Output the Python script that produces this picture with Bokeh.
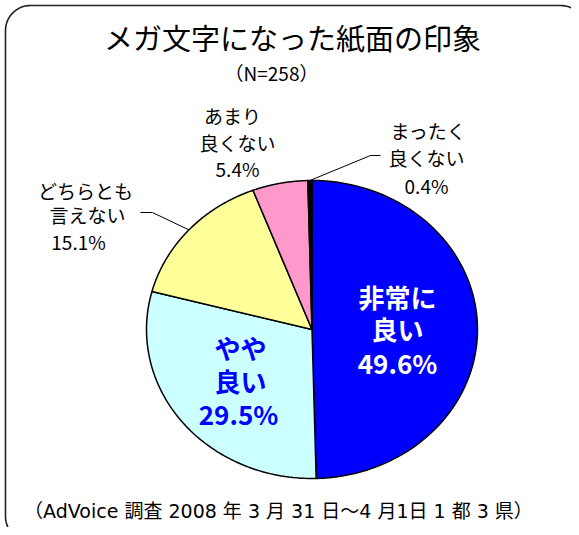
import numpy as np
from bokeh.plotting import figure
from bokeh.models import Range1d, ColumnDataSource
from bokeh.embed import file_html
from bokeh.resources import INLINE
from bokeh.core.properties import value

# ---- data ----
categories = ["非常に良い", "やや良い", "どちらとも言えない", "あまり良くない", "まったく良くない"]
shares = [49.6, 29.5, 15.1, 5.4, 0.4]
label_top = ["非常に", "やや", "どちらとも", "あまり", "まったく"]
label_mid = ["良い", "良い", "言えない", "良くない", "良くない"]
colors = ["#0000FF", "#CCFFFF", "#FFFF99", "#FF99CC", "#000000"]
title_text = "メガ文字になった紙面の印象"
subtitle_text = "（N=258）"
footer_text = "（AdVoice 調査  2008 年 3 月 31 日～4 月1日  1 都 3 県）"

FONT = value("Noto Sans CJK JP")
FONT_MIX = value("DejaVu Sans, Noto Sans CJK JP")

# ---- layout (image pixel coordinates) ----
W, H = 571, 527
p = figure(width=W, height=H, x_range=Range1d(0, W), y_range=Range1d(H, 0),
           output_backend="svg", toolbar_location=None, min_border=0)
p.axis.visible = False
p.grid.visible = False
p.outline_line_color = None
p.background_fill_color = "white"
p.border_fill_color = "white"

# rounded border
def rounded_rect(x0, y0, x1, y1, r, n=20):
    xs, ys = [], []
    corners = [(x0 + r, y0 + r, np.pi, 1.5 * np.pi),
               (x1 - r, y0 + r, 1.5 * np.pi, 2 * np.pi),
               (x1 - r, y1 - r, 0, 0.5 * np.pi),
               (x0 + r, y1 - r, 0.5 * np.pi, np.pi)]
    for cx_, cy_, a0, a1 in corners:
        t = np.linspace(a0, a1, n)
        xs += list(cx_ + r * np.cos(t))
        ys += list(cy_ + r * np.sin(t))
    xs.append(xs[0]); ys.append(ys[0])
    return xs, ys

bx, by = rounded_rect(5, 5, 585, 541, 25)
p.line(bx, by, line_color="#222222", line_width=1.6)

# pie (elliptical)
cx, cy, rx, ry = 311.5, 329.0, 165.5, 149.0
total = sum(shares)
fr = np.cumsum([0] + shares) / total
xs, ys, mids = [], [], []
for i in range(len(shares)):
    t = np.linspace(2 * np.pi * fr[i], 2 * np.pi * fr[i + 1], 80)
    xs.append([cx] + list(cx + rx * np.sin(t)))
    ys.append([cy] + list(cy - ry * np.cos(t)))
    mids.append(np.pi * (fr[i] + fr[i + 1]))
src = ColumnDataSource(dict(xs=xs, ys=ys, color=colors, name=categories))
p.patches("xs", "ys", source=src, fill_color="color", line_color="black", line_width=1.5)

# leader lines (to slice mid-point on the rim)
def rim(m):
    return cx + rx * np.sin(m), cy - ry * np.cos(m)

ex, ey = rim(mids[4])
p.line([380, 370, ex], [155, 155, ey], line_color="black", line_width=1)
ex, ey = rim(mids[2])
p.line([140, 152, ex], [212, 212, ey], line_color="black", line_width=1)

pct = [f"{v}%" for v in shares]

# big in-slice labels
big = [(0, [397, 397, 397], [296, 328, 362], "white"),
       (1, [240, 240, 238], [347, 380, 413], "#0000FF")]
for i, lx, ly, col in big:
    p.text(x=lx, y=ly, text=[label_top[i], label_mid[i], pct[i]],
           text_font=FONT, text_font_size="26px", text_font_style="bold",
           text_color=col, text_align="center", text_baseline="middle")

# outside labels
small = [(2, [85, 87, 78], [190, 214, 241]),
         (3, [232, 237, 237], [115, 142, 168]),
         (4, [428, 426, 426], [130, 157, 185])]
for i, lx, ly in small:
    p.text(x=lx, y=ly, text=[label_top[i], label_mid[i], pct[i]],
           text_font=FONT, text_font_size="19px",
           text_color="black", text_align="center", text_baseline="middle")

# titles
p.text(x=[292], y=[36], text=[title_text], text_font=FONT, text_font_size="29px",
       text_color="black", text_align="center", text_baseline="middle")
p.text(x=[271], y=[72], text=[subtitle_text], text_font=FONT, text_font_size="19px",
       text_color="black", text_align="center", text_baseline="middle")
p.text(x=[284], y=[510], text=[footer_text], text_font=FONT_MIX, text_font_size="19px",
       text_color="black", text_align="center", text_baseline="middle")

open("out.html", "w").write(file_html(p, INLINE))
